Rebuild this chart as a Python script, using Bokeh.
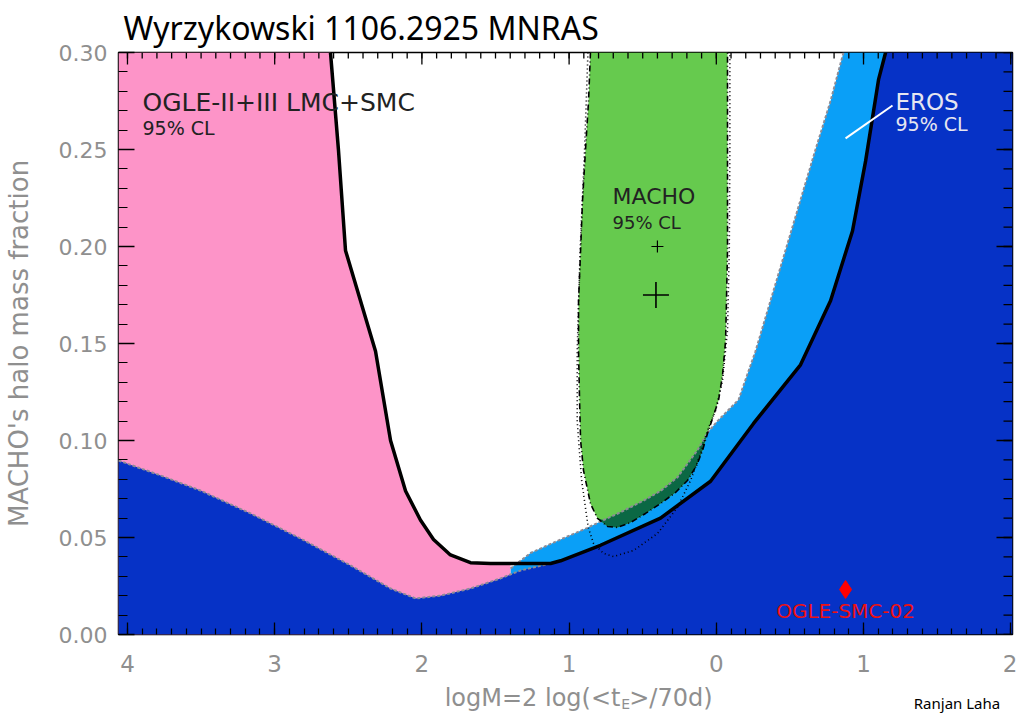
import numpy as np
from bokeh.plotting import figure
from bokeh.layouts import column
from bokeh.models import Range1d, FixedTicker, Label
from bokeh.core.properties import value
from bokeh.embed import file_html
from bokeh.resources import INLINE

# ---- canvas / frame geometry ---------------------------------------------------
WIDTH, HEIGHT = 1017, 682
FOOT_H = 33
BORDER_L, BORDER_R, BORDER_T, BORDER_B = 118, 5, 52, 48

# ---- axis ranges and ticks -------------------------------------------------
X_MIN, X_MAX = -4.061, 2.012
Y_MIN, Y_MAX = 0.0, 0.30

x_ticks = [-4, -3, -2, -1, 0, 1, 2]
x_tick_labels = ["4", "3", "2", "1", "0", "1", "2"]
y_ticks = [0.00, 0.05, 0.10, 0.15, 0.20, 0.25, 0.30]
y_tick_labels = ["0.00", "0.05", "0.10", "0.15", "0.20", "0.25", "0.30"]
x_minor = [round(v, 2) for v in np.arange(-4.0, 2.001, 0.1)]
y_minor = [round(v, 3) for v in np.arange(0.0, 0.3001, 0.01)]

# ---- OGLE-II+III LMC+SMC 95% CL upper limit (solid black U) ----------------
ogle_x = [-2.621, -2.567, -2.519, -2.315, -2.213, -2.111, -2.010, -1.921,
          -1.806, -1.670, -1.534, -1.330, -1.126, -1.058, -0.787, -0.379,
          -0.039, 0.253, 0.572, 0.776, 0.925, 1.014, 1.102, 1.150]
ogle_y = [0.300, 0.250, 0.198, 0.146, 0.100, 0.074, 0.059, 0.049,
          0.041, 0.037, 0.0366, 0.0366, 0.0366, 0.038, 0.046, 0.060,
          0.079, 0.1088, 0.139, 0.172, 0.208, 0.244, 0.286, 0.300]

# lower envelope on the left (edge of the dark blue area)
low_x = [-4.061, -3.776, -3.504, -3.164, -2.825, -2.485, -2.213, -2.043,
         -1.874, -1.670, -1.466, -1.330, -1.126]
low_y = [0.0897, 0.082, 0.0742, 0.0624, 0.0495, 0.0356, 0.0237, 0.0186,
         0.020, 0.0237, 0.0289, 0.033, 0.0366]

# EROS 95% CL edge (upper-left side of the light blue band)
eros_x = [-1.398, -1.262, -1.058, -0.875, -0.766, -0.651, -0.495, -0.379,
          -0.264, -0.128, -0.060, 0.008, 0.151, 0.266, 0.368, 0.470,
          0.572, 0.674, 0.776, 0.864]
eros_y = [0.034, 0.042, 0.049, 0.055, 0.059, 0.063, 0.069, 0.074,
          0.081, 0.095, 0.104, 0.110, 0.121, 0.146, 0.172, 0.198,
          0.224, 0.250, 0.275, 0.300]

# MACHO 95% CL region
macho_x = [-0.855, -0.868, -0.889, -0.909, -0.922, -0.936, -0.936, -0.929,
           -0.922, -0.902, -0.855, -0.807, -0.739, -0.671, -0.583, -0.481,
           -0.379, -0.277, -0.196, -0.134, -0.094, -0.060, -0.026, 0.015,
           0.042, 0.063, 0.069, 0.076, 0.076, 0.076]
macho_y = [0.300, 0.275, 0.2495, 0.2237, 0.198, 0.172, 0.146, 0.1206,
           0.100, 0.0845, 0.0675, 0.0598, 0.0557, 0.0552, 0.0577, 0.0624,
           0.0675, 0.0732, 0.0794, 0.0871, 0.0948, 0.1036, 0.1113, 0.1206,
           0.1335, 0.1515, 0.172, 0.198, 0.2495, 0.300]

# part of the MACHO region lying inside the EROS band
overlap_x = [-0.807, -0.766, -0.651, -0.495, -0.379, -0.264, -0.128, -0.060,
             -0.094, -0.134, -0.196, -0.277, -0.379, -0.481, -0.583, -0.671,
             -0.739]
overlap_y = [0.0598, 0.059, 0.063, 0.069, 0.074, 0.081, 0.095, 0.104,
             0.0948, 0.0871, 0.0794, 0.0732, 0.0675, 0.0624, 0.0577, 0.0552,
             0.0557]

# second MACHO contour (dotted)
dot_x = [-0.872, -0.895, -0.925, -0.945, -0.945, -0.915, -0.870, -0.834,
         -0.766, -0.698, -0.562, -0.399, -0.264, -0.175, -0.107, -0.060,
         -0.005, 0.042, 0.076, 0.088, 0.092, 0.092]
dot_y = [0.300, 0.2495, 0.198, 0.146, 0.110, 0.0794, 0.0552, 0.0469,
         0.0418, 0.0402, 0.0433, 0.0521, 0.0655, 0.0794, 0.0933, 0.1052,
         0.1155, 0.1309, 0.1567, 0.198, 0.2495, 0.300]

# MACHO best-fit points
macho_best_x = [-0.40]
macho_best_y = [0.20]
macho_alt_x = [-0.41]
macho_alt_y = [0.175]

# OGLE-SMC-02 event
event_x = [0.878]
event_y = [0.0232]

# pointer from the EROS label to its band
eros_pointer_x = [0.878, 1.197]
eros_pointer_y = [0.2557, 0.2727]

# ---- colours -----------------------------------------------------------------
DARK_BLUE = "#0632c6"
LIGHT_BLUE = "#0a9ff7"
PINK = "#fd94c8"
GREEN = "#66ca4e"
DARK_GREEN = "#0b6844"
EDGE_GRAY = "#8c8c96"
AXIS_GRAY = "#8f8f8f"

p = figure(width=WIDTH, height=HEIGHT, output_backend="svg",
           toolbar_location=None,
           x_range=Range1d(X_MIN, X_MAX), y_range=Range1d(Y_MIN, Y_MAX),
           min_border_left=BORDER_L, min_border_right=BORDER_R,
           min_border_top=BORDER_T, min_border_bottom=BORDER_B)
p.grid.visible = False
p.background_fill_color = "white"
p.border_fill_color = "white"
p.outline_line_color = "black"
p.outline_line_width = 1.5

# title
p.title.text = "Wyrzykowski 1106.2925 MNRAS"
p.title.text_font = "Noto Sans"
p.title.text_font_size = "32px"
p.title.text_font_style = "normal"
p.title.text_color = "black"
p.title.align = "left"
p.title.offset = 5
p.title.standoff = 7

# split index of the OGLE curve: left branch ends where the EROS band starts
split = next(i for i, v in enumerate(ogle_x) if v > eros_x[0])
bottom_idx = ogle_x.index(low_x[-1])

# light blue EROS band (lower part hidden by the dark blue area)
lb_x = eros_x + ogle_x[bottom_idx:][::-1] + [low_x[-1], eros_x[0]]
lb_y = eros_y + ogle_y[bottom_idx:][::-1] + [Y_MIN, Y_MIN]
p.patch(lb_x, lb_y, fill_color=LIGHT_BLUE, line_color=None)

# pink OGLE excluded region on the left
pk_x = [X_MIN] + ogle_x[:split] + [eros_x[0], eros_x[0], X_MIN]
pk_y = [Y_MAX] + ogle_y[:split] + [ogle_y[split], Y_MIN, Y_MIN]
p.patch(pk_x, pk_y, fill_color=PINK, line_color=None)

# MACHO region and its overlap with the EROS band
p.patch(macho_x, macho_y, fill_color=GREEN, line_color=None)
p.patch(overlap_x, overlap_y, fill_color=DARK_GREEN, line_color=None)

# dark blue area
db_x = [X_MIN, X_MAX, X_MAX] + ogle_x[bottom_idx:][::-1] + low_x[-2::-1]
db_y = [Y_MIN, Y_MIN, Y_MAX] + ogle_y[bottom_idx:][::-1] + low_y[-2::-1]
p.patch(db_x, db_y, fill_color=DARK_BLUE, line_color=None)

# contour lines
p.line(low_x, low_y, line_color=EDGE_GRAY, line_width=2, line_dash="3 2")
p.line(eros_x, eros_y, line_color=EDGE_GRAY, line_width=2, line_dash="3 2")
p.line(dot_x, dot_y, line_color="black", line_width=1.6, line_dash="1 3")
p.line(macho_x, macho_y, line_color="black", line_width=1.6,
       line_dash="6 3 1 3")
p.line(ogle_x, ogle_y, line_color="black", line_width=3.5)
p.line(eros_pointer_x, eros_pointer_y, line_color="white", line_width=2)

# markers
p.scatter(macho_best_x, macho_best_y, marker="cross", size=12,
          line_color="black", line_width=1.2)
p.scatter(macho_alt_x, macho_alt_y, marker="cross", size=26,
          line_color="black", line_width=1.6)
p.scatter(event_x, event_y, marker="diamond", size=18,
          fill_color="#ff0000", line_color="#ff0000")

# ---- axes --------------------------------------------------------------------
X_MAJOR_LEN, X_MINOR_LEN = 12, 6
Y_MAJOR_LEN, Y_MINOR_LEN = 16, 9


def style_axis(ax, ticks, minor, major_len, minor_len):
    ax.ticker = FixedTicker(ticks=ticks, minor_ticks=minor)
    ax.major_tick_in = major_len
    ax.major_tick_out = 0
    ax.minor_tick_in = minor_len
    ax.minor_tick_out = 0
    ax.major_tick_line_color = "black"
    ax.minor_tick_line_color = "black"
    ax.major_tick_line_width = 1.3
    ax.minor_tick_line_width = 1.2
    ax.axis_line_color = None
    ax.major_label_text_color = AXIS_GRAY
    ax.major_label_text_font = "DejaVu Sans"


xa = p.xaxis[0]
style_axis(xa, x_ticks, x_minor, X_MAJOR_LEN, X_MINOR_LEN)
xa.major_label_overrides = {t: s for t, s in zip(x_ticks, x_tick_labels)}
xa.major_label_text_font_size = "23px"
xa.major_label_standoff = 20

ya = p.yaxis[0]
style_axis(ya, y_ticks, y_minor, Y_MAJOR_LEN, Y_MINOR_LEN)
ya.major_label_overrides = {t: s for t, s in zip(y_ticks, y_tick_labels)}
ya.major_label_text_font_size = "22px"
ya.major_label_standoff = 11
ya.axis_label = "MACHO's halo mass fraction"
ya.axis_label_text_font = "DejaVu Sans"
ya.axis_label_text_font_size = "26px"
ya.axis_label_text_font_style = "normal"
ya.axis_label_text_color = AXIS_GRAY
ya.axis_label_standoff = 22

# mirrored tick marks on the top and right edges of the frame
ppu_x = (WIDTH - BORDER_L - BORDER_R) / (X_MAX - X_MIN)
ppu_y = (HEIGHT - BORDER_T - BORDER_B) / (Y_MAX - Y_MIN)
for ticks, length in ((x_ticks, X_MAJOR_LEN), (x_minor, X_MINOR_LEN)):
    p.segment(x0=ticks, y0=[Y_MAX] * len(ticks), x1=ticks,
              y1=[Y_MAX - length / ppu_y] * len(ticks),
              line_color="black", line_width=1.3)
for ticks, length in ((y_ticks, Y_MAJOR_LEN), (y_minor, Y_MINOR_LEN)):
    p.segment(x0=[X_MAX] * len(ticks), y0=ticks,
              x1=[X_MAX - length / ppu_x] * len(ticks), y1=ticks,
              line_color="black", line_width=1.3)

# ---- texts inside the frame ----------------------------------------------------
def add_text(x, y, text, size, color="black", font="DejaVu Sans",
             align="left"):
    p.add_layout(Label(x=x, y=y, text=text, text_font=font,
                       text_font_size=size, text_color=color,
                       text_align=align, text_baseline="middle"))


add_text(-3.898, 0.2742, "OGLE-II+III LMC+SMC", "25px", color="#222222")
add_text(-3.898, 0.2613, "95% CL", "19px", color="#222222")
add_text(-0.705, 0.2258, "MACHO", "22px", color="#222222")
add_text(-0.705, 0.2124, "95% CL", "18px", color="#222222")
add_text(1.217, 0.2747, "EROS", "23px", color="#e6e6f0")
add_text(1.217, 0.2629, "95% CL", "19px", color="#e6e6f0")
add_text(0.878, 0.0119, "OGLE-SMC-02", "20px", color="#ee1111",
         align="center")

# ---- footer strip: x-axis label (with subscript) and credit --------------------
foot = figure(width=WIDTH, height=FOOT_H, output_backend="svg",
              toolbar_location=None, x_axis_type=None, y_axis_type=None,
              x_range=Range1d(0, WIDTH), y_range=Range1d(FOOT_H, 0),
              min_border=0)
foot.grid.visible = False
foot.outline_line_color = None
foot.background_fill_color = "white"
foot.border_fill_color = "white"

foot.text(x=[571], y=[15], text=["logM=2 log(<t"], text_align="right",
          text_baseline="middle", text_font=value("DejaVu Sans"),
          text_font_size="24px", text_color=AXIS_GRAY)
foot.text(x=[572], y=[21], text=["E"], text_align="left",
          text_baseline="middle", text_font=value("DejaVu Sans"),
          text_font_size="14px", text_color=AXIS_GRAY)
foot.text(x=[581], y=[15], text=[">/70d)"], text_align="left",
          text_baseline="middle", text_font=value("DejaVu Sans"),
          text_font_size="24px", text_color=AXIS_GRAY)
foot.text(x=[1003], y=[20], text=["Ranjan Laha"], text_align="right",
          text_baseline="middle", text_font=value("Noto Sans"),
          text_font_size="15px", text_color="black")

page = column(p, foot, spacing=0)
open("out.html", "w").write(file_html(page, INLINE))
